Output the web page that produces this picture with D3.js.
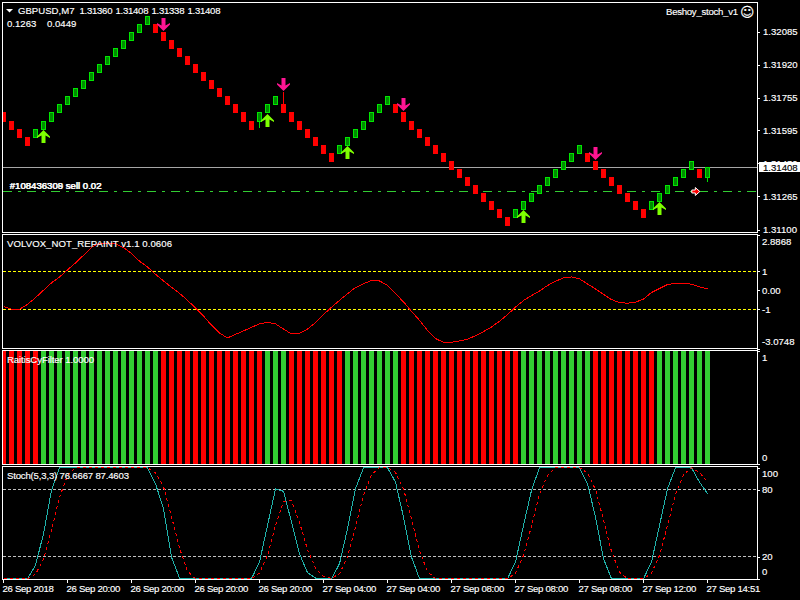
<!DOCTYPE html>
<html>
<head>
  <title>GBPUSD,M7</title>
  <script src="https://d3js.org/d3.v7.min.js"></script>
  <style>
    html, body { margin: 0; padding: 0; background: #000; overflow: hidden; }
    text { font-family: "Liberation Sans", sans-serif; font-size: 9.6px; fill: #fff; stroke: #fff; stroke-width: 0.15px; }
  </style>
</head>
<body>
  <script>
    // main panel, one value per bar
    var opens = [1.3168,1.3164,1.3160,1.3156,1.3156,1.3160,1.3164,1.3168,1.3172,1.3176,1.3180,1.3184,1.3188,1.3192,1.3196,1.3200,1.3204,1.3208,1.3212,1.3212,1.3208,1.3204,1.3200,1.3196,1.3192,1.3188,1.3184,1.3180,1.3176,1.3172,1.3168,1.3164,1.3164,1.3168,1.3172,1.3172,1.3168,1.3164,1.3160,1.3156,1.3152,1.3148,1.3148,1.3152,1.3156,1.3160,1.3164,1.3168,1.3172,1.3172,1.3168,1.3164,1.3160,1.3156,1.3152,1.3148,1.3144,1.3140,1.3136,1.3132,1.3128,1.3124,1.3120,1.3116,1.3116,1.3120,1.3124,1.3128,1.3132,1.3136,1.3140,1.3144,1.3148,1.3148,1.3144,1.3140,1.3136,1.3132,1.3128,1.3124,1.3120,1.3120,1.3124,1.3128,1.3132,1.3136,1.3140,1.3140,1.3136];
    var closes = [1.3164,1.3160,1.3156,1.3152,1.3160,1.3164,1.3168,1.3172,1.3176,1.3180,1.3184,1.3188,1.3192,1.3196,1.3200,1.3204,1.3208,1.3212,1.3216,1.3208,1.3204,1.3200,1.3196,1.3192,1.3188,1.3184,1.3180,1.3176,1.3172,1.3168,1.3164,1.3160,1.3168,1.3172,1.3176,1.3168,1.3164,1.3160,1.3156,1.3152,1.3148,1.3144,1.3152,1.3156,1.3160,1.3164,1.3168,1.3172,1.3176,1.3168,1.3164,1.3160,1.3156,1.3152,1.3148,1.3144,1.3140,1.3136,1.3132,1.3128,1.3124,1.3120,1.3116,1.3112,1.3120,1.3124,1.3128,1.3132,1.3136,1.3140,1.3144,1.3148,1.3152,1.3144,1.3140,1.3136,1.3132,1.3128,1.3124,1.3120,1.3116,1.3124,1.3128,1.3132,1.3136,1.3140,1.3144,1.3136,1.31408];
    var wickBars = [32, 35, 88];
    var wickEnds = [1.31605, 1.31784, 1.31338];
    var upArrowBars = [5, 33, 43, 65, 82];
    var upArrowPrices = [1.31595, 1.31675, 1.31516, 1.31197, 1.31237];
    var downArrowBars = [20, 35, 50, 74];
    var downArrowPrices = [1.32088, 1.31789, 1.31690, 1.31446];
    var bidPrice = 1.31408;
    var orderPrice = 1.31290;
    var orderBar = 86.6;
    var priceTicks = [1.32085, 1.31920, 1.31755, 1.31595, 1.31430, 1.31265, 1.31100];
    var ohlcLabels = ["1.31360", "1.31408", "1.31338", "1.31408"];

    // VOLVOX panel
    var volvox = [-0.86,-1.00,-1.00,-0.74,-0.39,0.00,0.39,0.70,1.07,1.44,1.84,2.26,2.47,2.46,2.44,2.25,1.93,1.53,1.23,0.84,0.49,0.16,-0.16,-0.53,-0.93,-1.35,-1.84,-2.25,-2.51,-2.32,-2.14,-1.95,-1.77,-1.68,-1.77,-2.04,-2.30,-2.26,-2.04,-1.70,-1.28,-0.89,-0.53,-0.18,0.14,0.35,0.51,0.49,0.26,-0.18,-0.61,-1.11,-1.58,-2.11,-2.54,-2.74,-2.74,-2.67,-2.58,-2.39,-2.18,-1.93,-1.63,-1.28,-0.89,-0.54,-0.28,-0.04,0.25,0.47,0.65,0.70,0.60,0.33,0.07,-0.21,-0.49,-0.65,-0.68,-0.63,-0.46,-0.12,0.09,0.30,0.37,0.37,0.32,0.18,0.07];
    var volvoxTicks = [2.8868, 1, 0, -1, -3.0748];
    var volvoxTickLabels = ["2.8868", "1", "0.00", "-1", "-3.0748"];
    var volvoxLevels = [1, -1];

    // RaitisCyFilter panel, 1 = green, 0 = red
    var filterState = [0,0,0,0,0,1,1,1,1,1,1,1,1,1,1,1,1,1,1,1,0,0,0,0,0,0,0,0,0,0,0,0,0,1,1,1,0,0,0,0,0,0,0,1,1,1,1,1,1,1,0,0,0,0,0,0,0,0,0,0,0,0,0,0,0,1,1,1,1,1,1,1,1,1,0,0,0,0,0,0,0,0,1,1,1,1,1,1,1];
    var filterTicks = [1, 0];

    // Stoch panel
    var stochMain = [0,0,0,0,12,40.5,79.6,100,100,100,100,100,100,100,100,100,100,100,100,85.6,63,19.5,0.5,0,0,0,0,0,0,0,0,0,15,48,81,78.7,51,22.5,5.4,0.6,0,0,13.5,45,81,100,100,100,100,87,55.6,19.5,0,0,0,0,0,0,0,0,0,0,0,0,15,48,79.6,100,100,100,100,100,100,85.6,55.6,18,0,0,0,0,0,15,48,81,100,100,100,87,76.67];
    var stochSignal = [0,0,0,0,4,17.5,44,73.3,93,100,100,100,100,100,100,100,100,100,100,95.2,83,56,27.5,6.7,0,0,0,0,0,0,0,0,5,21,48,69.6,70.3,50.7,26.3,9.5,2,0.2,4.5,19.5,46.5,75.3,93.7,100,100,95.7,80.9,54,25,6.5,0,0,0,0,0,0,0,0,0,0,5,21,47.5,76,93,100,100,100,100,95.2,80.4,53,24.5,6,0,0,0,5,21,48,76,93.7,100,95.7,87.46];
    var stochTicks = [100, 80, 20, 0];
    var stochLevels = [80, 20];

    var timeBars = [0, 8, 16, 24, 32, 40, 48, 56, 64, 72, 80, 88];
    var timeLabels = ["26 Sep 2018", "26 Sep 20:00", "26 Sep 20:00", "26 Sep 20:00", "26 Sep 20:00", "27 Sep 04:00", "27 Sep 04:00", "27 Sep 08:00", "27 Sep 08:00", "27 Sep 08:00", "27 Sep 12:00", "27 Sep 14:51"];

    var w = 800;
    var h = 600;
    var plotLeft = 3;
    var plotRight = 757;
    var red = "#ff0000";

    var svg = d3.select("body").append("svg").attr("width", w).attr("height", h)
      .style("display", "block").style("background", "#000");

    var x = d3.scaleLinear().domain([0, 88]).range([3, 707]);
    var yPrice = d3.scaleLinear().domain([1.32085, 1.311]).range([31.57, 229.57]);
    var yVolvox = d3.scaleLinear().domain([2.8868, -3.0748]).range([235.4, 348.7]);
    var yFilter = d3.scaleLinear().domain([1, 0]).range([351, 463.5]);
    var yStoch = d3.scaleLinear().domain([100, 0]).range([467.7, 578.7]);

    // pixels are snapped like the terminal does it
    function snap(v) { return Math.floor(v) + 0.5; }

    var panels = [
      {id: "p1", top: 2, bottom: 232},
      {id: "p2", top: 234, bottom: 348},
      {id: "p3", top: 350, bottom: 464},
      {id: "p4", top: 466, bottom: 579}
    ];
    var defs = svg.append("defs");
    panels.forEach(function(p) {
      defs.append("clipPath").attr("id", p.id).append("rect")
        .attr("x", plotLeft).attr("y", p.top + 1)
        .attr("width", plotRight - plotLeft).attr("height", p.bottom - p.top - 1);
    });
    function panelGroup(id) {
      return svg.append("g").attr("clip-path", "url(#" + id + ")");
    }

    // ---- main panel ----
    var main = panelGroup("p1");
    main.append("line").attr("x1", plotLeft).attr("x2", plotRight)
      .attr("y1", snap(yPrice(bidPrice))).attr("y2", snap(yPrice(bidPrice)))
      .attr("stroke", "#a6a6a6").attr("shape-rendering", "crispEdges");
    main.append("line").attr("x1", plotLeft).attr("x2", plotRight)
      .attr("y1", snap(yPrice(orderPrice))).attr("y2", snap(yPrice(orderPrice)))
      .attr("stroke", "#32cd32").attr("stroke-dasharray", "9,6,3,6").attr("shape-rendering", "crispEdges");

    main.selectAll(".wick").data(wickBars).enter().append("line").attr("class", "wick")
      .attr("x1", function(d) { return x(d) + 0.5; })
      .attr("x2", function(d) { return x(d) + 0.5; })
      .attr("y1", function(d) { return yPrice((opens[d] + closes[d]) / 2); })
      .attr("y2", function(d, i) { return yPrice(wickEnds[i]); })
      .attr("stroke", function(d) { return closes[d] > opens[d] ? "#00e000" : red; })
      .attr("shape-rendering", "crispEdges");

    main.selectAll(".candle").data(opens).enter().append("rect").attr("class", "candle")
      .attr("x", function(d, i) { return x(i) - 1.5; })
      .attr("width", 4)
      .attr("y", function(d, i) { return snap(yPrice(Math.max(d, closes[i]))); })
      .attr("height", function(d, i) { return snap(yPrice(Math.min(d, closes[i]))) - snap(yPrice(Math.max(d, closes[i]))); })
      .attr("fill", function(d, i) { return closes[i] > d ? "#008c00" : red; })
      .attr("stroke", function(d, i) { return closes[i] > d ? "#00e600" : red; })
      .attr("shape-rendering", "crispEdges");

    var upShape = "M0,0L6.5,6.5L6.5,8L2,5.5L2,13L-2,13L-2,5.5L-6.5,8L-6.5,6.5Z";
    var downShape = "M0,0L6.5,-6.5L6.5,-8L2,-5.5L2,-13L-2,-13L-2,-5.5L-6.5,-8L-6.5,-6.5Z";
    main.selectAll(".up").data(upArrowBars).enter().append("path").attr("class", "up")
      .attr("d", upShape).attr("fill", "#7fff00")
      .attr("transform", function(d, i) { return "translate(" + (x(d) + 0.5) + "," + yPrice(upArrowPrices[i]) + ")"; });
    main.selectAll(".down").data(downArrowBars).enter().append("path").attr("class", "down")
      .attr("d", downShape).attr("fill", "#ff1493")
      .attr("transform", function(d, i) { return "translate(" + (x(d) + 0.5) + "," + yPrice(downArrowPrices[i]) + ")"; });

    // closed order marker
    main.append("path").attr("d", "M-4,-1.5L-0.5,-1.5L-0.5,-4L4,0L-0.5,4L-0.5,1.5L-4,1.5Z")
      .attr("fill", red).attr("stroke", "#fff").attr("stroke-width", 1)
      .attr("transform", "translate(" + x(orderBar) + "," + snap(yPrice(orderPrice)) + ")");

    // ---- VOLVOX panel ----
    var vol = panelGroup("p2");
    vol.selectAll(".level").data(volvoxLevels).enter().append("line").attr("class", "level")
      .attr("x1", plotLeft).attr("x2", plotRight)
      .attr("y1", function(d) { return snap(yVolvox(d)); })
      .attr("y2", function(d) { return snap(yVolvox(d)); })
      .attr("stroke", "#ffff00").attr("stroke-dasharray", "3,2").attr("shape-rendering", "crispEdges");
    var volLine = d3.line().x(function(d, i) { return x(i) + 0.5; }).y(function(d) { return yVolvox(d); });
    vol.append("path").attr("d", volLine(volvox)).attr("fill", "none")
      .attr("stroke", red).attr("stroke-width", 1).attr("shape-rendering", "crispEdges");

    // ---- filter panel ----
    var filt = panelGroup("p3");
    filt.selectAll("rect").data(filterState).enter().append("rect")
      .attr("x", function(d, i) { return x(i) - 2; })
      .attr("width", 5)
      .attr("y", yFilter(1))
      .attr("height", yFilter(0) - yFilter(1))
      .attr("fill", function(d) { return d ? "#32cd32" : red; })
      .attr("shape-rendering", "crispEdges");

    // ---- stoch panel ----
    var sto = panelGroup("p4");
    sto.selectAll(".level").data(stochLevels).enter().append("line").attr("class", "level")
      .attr("x1", plotLeft).attr("x2", plotRight)
      .attr("y1", function(d) { return snap(yStoch(d)); })
      .attr("y2", function(d) { return snap(yStoch(d)); })
      .attr("stroke", "#c0c0c0").attr("stroke-dasharray", "3,2").attr("shape-rendering", "crispEdges");
    var stoLine = d3.line().x(function(d, i) { return x(i) + 0.5; }).y(function(d) { return yStoch(d); });
    sto.append("path").attr("d", stoLine(stochMain)).attr("fill", "none")
      .attr("stroke", "#20b2aa").attr("shape-rendering", "crispEdges");
    sto.append("path").attr("d", stoLine(stochSignal)).attr("fill", "none")
      .attr("stroke", red).attr("stroke-dasharray", "3,3").attr("shape-rendering", "crispEdges");

    // ---- frames ----
    panels.forEach(function(p) {
      svg.append("rect").attr("x", plotLeft - 0.5).attr("y", p.top + 0.5)
        .attr("width", plotRight - plotLeft + 0.5 + 0.5).attr("height", p.bottom - p.top)
        .attr("fill", "none").attr("stroke", "#fff").attr("shape-rendering", "crispEdges");
    });

    // ---- axes ----
    function styleAxis(g, dx) {
      g.select(".domain").remove();
      g.selectAll("line").attr("stroke", "#fff").attr("shape-rendering", "crispEdges");
      g.selectAll("text").attr("fill", "#fff").attr("font-family", null).attr("font-size", null);
      g.attr("font-size", null).attr("font-family", null);
      if (dx != null) g.selectAll("text").attr("x", dx);
    }
    function rightAxis(scale, ticks, fmt, dx) {
      var g = svg.append("g").attr("transform", "translate(" + plotRight + ",0)")
        .call(d3.axisRight(scale).tickValues(ticks).tickSize(3).tickFormat(fmt));
      styleAxis(g, dx);
      return g;
    }
    function shiftEnds(g, shiftTop, shiftBottom) {
      var t = g.selectAll("text").nodes();
      d3.select(t[0]).attr("dy", shiftTop);
      d3.select(t[t.length - 1]).attr("dy", shiftBottom);
    }

    rightAxis(yPrice, priceTicks, function(d) { return d.toFixed(5); }, 6);
    svg.append("rect").attr("x", 759).attr("y", 162).attr("width", 41).attr("height", 10).attr("fill", "#fff");
    svg.append("text").attr("x", 763).attr("y", 171).style("fill", "#000").style("stroke", "#000").text(bidPrice.toFixed(5));

    var volAxis = rightAxis(yVolvox, volvoxTicks, function(d, i) { return volvoxTickLabels[i]; }, 5);
    shiftEnds(volAxis, "0.9em", "-0.4em");
    var filtAxis = rightAxis(yFilter, filterTicks, function(d) { return d; }, 5);
    shiftEnds(filtAxis, "0.95em", "-0.3em");
    var stoAxis = rightAxis(yStoch, stochTicks, function(d) { return d; }, 5);
    shiftEnds(stoAxis, "0.95em", "-0.4em");

    var timeAxis = svg.append("g").attr("transform", "translate(0,579)")
      .call(d3.axisBottom(x).tickValues(timeBars).tickSize(4).tickFormat(function(d, i) { return timeLabels[i]; }));
    styleAxis(timeAxis);
    timeAxis.selectAll("text").attr("text-anchor", "start").attr("x", -1).attr("y", 6)
      .style("letter-spacing", "-0.3px");

    // ---- labels ----
    svg.append("path").attr("d", "M6,9L13,9L9.5,12.5Z").attr("fill", "#fff");
    svg.append("text").attr("x", 18).attr("y", 14).text("GBPUSD,M7");
    svg.selectAll(".ohlc").data(ohlcLabels).enter().append("text").attr("class", "ohlc")
      .attr("x", function(d, i) { return 79.5 + i * 36; }).attr("y", 14).attr("textLength", 33).text(function(d) { return d; });
    svg.append("text").attr("x", 7).attr("y", 27).text("0.1263");
    svg.append("text").attr("x", 47).attr("y", 27).text("0.0449");
    svg.append("text").attr("x", 666).attr("y", 15).attr("textLength", 72).text("Beshoy_stoch_v1");
    svg.append("text").attr("x", 740).attr("y", 17).style("font-family", "DejaVu Sans").style("font-size", "14px").text("\u263A");
    svg.append("text").attr("x", 9.5).attr("y", 189).text("#108436308 sell 0.02");
    svg.append("text").attr("x", 10).attr("y", 189).text("#108436309 sell 0.02");
    svg.append("text").attr("x", 7).attr("y", 247).attr("textLength", 165).text("VOLVOX_NOT_REPAINT v1.1 0.0606");
    svg.append("text").attr("x", 7).attr("y", 363).attr("textLength", 87).text("RaitisCyFilter 1.0000");
    svg.append("text").attr("x", 7).attr("y", 479).attr("textLength", 122).text("Stoch(5,3,3) 76.6667 87.4603");
  </script>
</body>
</html>
